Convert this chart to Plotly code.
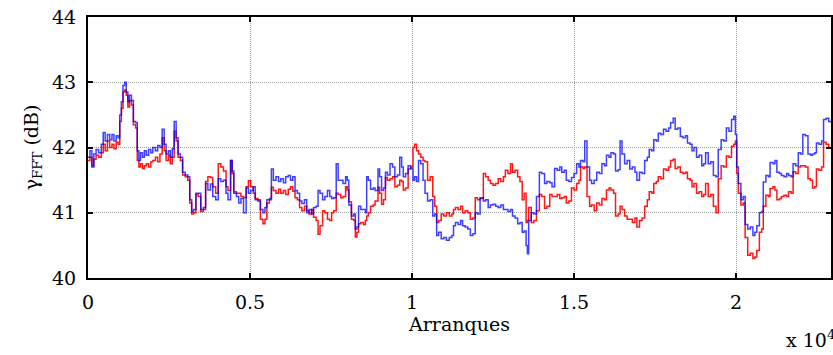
import plotly.graph_objects as go

arranques = [0,60,120,180,250,330,410,470,530,600,670,740,800,870,930,980,1030,1080,1130,1180,1230,1280,1340,1400,1470,1520,1570,1620,1680,1740,1800,1870,1940,2000,2080,2150,2220,2290,2350,2410,2480,2540,2600,2660,2720,2780,2850,2920,3000,3080,3140,3200,3260,3330,3400,3480,3560,3630,3700,3780,3850,3940,4020,4100,4180,4260,4320,4400,4450,4500,4580,4650,4720,4800,4880,4950,5020,5100,5160,5240,5320,5400,5460,5520,5600,5660,5720,5800,5880,5950,6030,6100,6180,6250,6320,6390,6460,6530,6600,6680,6750,6820,6900,6960,7040,7100,7160,7240,7310,7390,7460,7520,7580,7660,7720,7800,7870,7950,8000,8050,8130,8200,8250,8300,8350,8420,8500,8560,8600,8650,8720,8800,8860,8950,9000,9060,9120,9180,9240,9320,9400,9470,9550,9620,9680,9730,9800,9880,9960,10030,10080,10140,10200,10270,10340,10400,10480,10560,10640,10700,10760,10820,10900,10980,11060,11150,11230,11280,11340,11420,11500,11560,11640,11720,11800,11880,11950,12020,12100,12200,12270,12350,12420,12500,12580,12660,12740,12820,12880,12960,13040,13100,13180,13260,13330,13400,13460,13520,13560,13600,13680,13760,13840,13930,14000,14090,14160,14250,14320,14400,14480,14560,14620,14700,14760,14840,14920,15000,15080,15150,15200,15280,15330,15400,15480,15540,15620,15700,15780,15860,15940,16000,16080,16140,16220,16280,16360,16420,16480,16560,16640,16720,16800,16880,16940,17020,17100,17180,17260,17320,17400,17460,17540,17600,17680,17760,17840,17920,17980,18060,18120,18200,18280,18360,18440,18500,18580,18640,18700,18780,18860,18940,19000,19060,19140,19220,19300,19380,19450,19540,19620,19700,19780,19860,19930,19980,20020,20070,20150,20220,20280,20360,20440,20520,20580,20640,20720,20790,20840,20920,21000,21050,21140,21200,21260,21340,21400,21480,21560,21620,21700,21760,21840,21920,21990,22060,22140,22220,22300,22360,22430,22480,22560,22640,22700,22780,22860,22930]

gamma_blue = [41.85,41.95,41.70,41.90,41.97,41.92,42.05,42.23,42.10,42.20,42.12,42.20,42.10,42.18,42.15,42.50,42.70,42.95,43.00,42.85,42.70,42.80,42.72,42.40,42.38,41.95,41.80,41.92,41.85,41.95,41.88,41.97,41.92,42.00,41.95,42.03,42.00,42.28,42.05,41.90,41.95,41.85,41.98,42.40,42.15,41.90,41.85,41.62,41.58,41.55,41.20,41.02,41.05,41.30,41.30,41.05,41.08,41.45,41.35,41.44,41.25,41.20,41.52,41.48,41.50,41.30,41.20,41.80,41.64,41.30,41.25,41.15,41.22,41.00,41.38,41.30,41.34,41.40,41.20,41.18,41.05,41.00,41.08,41.20,41.22,41.67,41.50,41.55,41.48,41.52,41.46,41.55,41.57,41.50,41.55,41.34,41.30,41.18,41.14,41.20,41.00,41.05,40.98,41.08,41.10,41.34,41.30,41.20,41.25,41.34,41.25,41.22,41.23,41.75,41.50,41.50,41.45,41.55,41.50,41.12,40.95,40.98,40.75,40.78,41.10,41.05,41.05,41.00,41.55,41.50,41.36,41.38,41.34,41.67,41.55,41.34,41.38,41.62,41.58,41.75,41.70,41.55,41.58,41.85,41.70,41.55,41.60,41.72,41.68,41.50,41.55,41.48,41.80,41.75,41.50,41.30,41.18,41.20,40.95,40.98,40.65,40.70,40.60,40.62,40.58,40.62,40.65,40.80,40.85,40.82,40.88,40.80,40.78,40.75,40.65,40.68,41.00,40.98,41.23,41.18,41.20,41.08,41.12,41.13,41.10,41.08,41.12,41.05,41.05,41.02,41.05,40.95,40.92,40.83,40.85,40.70,40.72,40.50,40.37,40.88,41.00,40.98,41.25,41.62,41.60,41.45,41.48,41.46,41.40,41.68,41.65,41.70,41.62,41.65,41.50,41.48,41.54,41.60,41.75,41.70,41.80,41.78,42.10,41.70,41.50,41.45,41.50,41.62,41.60,41.75,41.72,41.88,41.85,41.92,41.90,41.64,41.66,42.10,41.90,41.75,41.80,41.67,41.70,41.62,41.50,41.62,41.60,41.80,41.85,41.97,41.95,42.12,42.10,42.22,42.20,42.28,42.25,42.30,42.38,42.45,42.28,42.30,42.17,42.15,42.18,42.07,42.05,41.95,42.00,41.85,41.88,41.72,41.75,41.92,41.75,41.78,41.57,41.55,41.97,42.12,42.10,42.30,42.25,42.43,42.48,42.20,41.70,41.45,41.20,41.25,40.82,40.75,40.78,40.65,40.70,40.80,41.00,41.02,41.47,41.57,41.55,41.77,41.75,41.80,41.62,41.60,41.57,41.55,41.60,41.57,41.55,41.75,41.72,41.92,41.90,42.20,42.18,41.90,41.88,41.90,41.92,42.07,42.05,42.10,42.43,42.45,42.40,42.38]

gamma_red = [41.80,41.85,41.72,41.82,41.88,41.85,41.92,42.05,41.95,42.10,42.00,42.05,41.98,42.08,42.05,42.40,42.60,42.85,42.88,42.80,42.62,42.72,42.65,42.35,42.30,41.80,41.70,41.75,41.68,41.72,41.75,41.70,41.78,41.80,41.85,41.78,41.90,42.15,41.95,41.80,41.88,41.75,41.85,42.25,42.10,41.85,41.80,41.58,41.55,41.50,41.15,40.98,41.00,41.28,41.25,41.02,41.05,41.48,41.55,41.54,41.40,41.30,41.75,41.70,41.64,41.40,41.34,41.80,41.60,41.32,41.30,41.30,41.25,41.23,41.40,41.49,41.40,41.30,41.22,41.20,40.90,40.83,40.90,41.15,41.20,41.39,41.34,41.30,41.36,41.30,41.34,41.28,41.36,41.40,41.33,41.23,41.20,41.08,41.03,41.10,41.03,40.98,41.05,40.93,40.88,40.67,40.80,41.03,41.00,40.90,40.88,41.00,41.03,41.30,41.28,41.23,41.25,41.40,41.35,41.17,40.90,40.88,40.63,40.70,40.83,40.85,40.82,40.88,40.95,41.00,41.10,41.12,41.18,41.39,41.30,41.13,41.20,41.54,41.50,41.52,41.55,41.40,41.42,41.50,41.48,41.35,41.38,41.67,41.70,42.00,42.05,41.95,41.90,41.85,41.80,41.78,41.50,41.55,41.25,41.10,40.85,40.88,40.98,40.95,41.00,40.95,40.98,41.05,41.08,41.05,41.10,41.00,41.03,41.00,40.90,40.92,41.23,41.20,41.22,41.60,41.55,41.50,41.45,41.42,41.45,41.52,41.48,41.55,41.65,41.60,41.75,41.62,41.65,41.55,41.48,41.20,41.30,40.85,40.88,41.08,40.85,40.88,41.03,41.28,41.25,41.07,41.10,41.28,41.25,41.25,41.28,41.22,41.23,41.25,41.15,41.18,41.38,41.35,41.45,41.50,41.70,41.68,41.70,41.25,41.10,41.12,41.03,41.15,41.12,41.22,41.20,41.35,41.38,41.35,41.30,40.95,40.98,41.10,41.05,40.95,40.90,40.90,40.85,40.92,40.78,40.88,40.92,41.10,41.20,41.32,41.30,41.45,41.48,41.55,41.52,41.67,41.65,41.70,41.80,41.82,41.68,41.70,41.62,41.60,41.62,41.52,41.50,41.40,41.45,41.30,41.32,41.25,41.28,41.45,41.25,41.28,41.10,41.00,41.52,41.72,41.70,41.87,41.85,42.02,42.05,42.10,41.60,41.30,41.12,41.15,40.62,40.35,40.38,40.30,40.32,40.42,40.70,40.75,41.10,41.27,41.25,41.37,41.40,41.35,41.20,41.22,41.25,41.27,41.25,41.32,41.30,41.63,41.60,41.70,41.72,41.72,41.70,41.52,41.50,41.38,41.40,41.67,41.65,41.70,42.08,42.05,42.00,41.98]

x_tickvals = [0, 5000, 10000, 15000, 20000]
x_ticktext = ["0", "0.5", "1", "1.5", "2"]
y_tickvals = [40, 41, 42, 43, 44]

fig = go.Figure()
fig.add_trace(go.Scatter(x=arranques, y=gamma_red, mode="lines", line_shape="hv",
                         line=dict(color="#FF0000", width=1.5), opacity=0.9, showlegend=False))
fig.add_trace(go.Scatter(x=arranques, y=gamma_blue, mode="lines", line_shape="hv",
                         line=dict(color="#0000FF", width=1.5), opacity=0.75, showlegend=False))

font_family = "DejaVu Serif"
fig.update_layout(
    width=833, height=355,
    margin=dict(l=88, r=0, t=17, b=77),
    paper_bgcolor="white", plot_bgcolor="white",
    font=dict(family=font_family, size=19, color="black"),
    showlegend=False,
)
fig.update_xaxes(
    range=[0, 22930], tickvals=x_tickvals, ticktext=x_ticktext,
    showline=True, linecolor="black", linewidth=2, mirror="ticks",
    ticks="inside", ticklen=5, tickwidth=1.5, tickcolor="black",
    showgrid=True, gridcolor="#a0a0a0", gridwidth=1, griddash="1px,1px",
    zeroline=False, ticklabelstandoff=6,
    title=dict(text="Arranques", font=dict(size=19, family=font_family), standoff=4),
    tickfont=dict(size=19, family=font_family),
)
fig.update_yaxes(
    range=[40, 44], tickvals=y_tickvals,
    showline=True, linecolor="black", linewidth=2, mirror="ticks",
    ticks="inside", ticklen=5, tickwidth=1.5, tickcolor="black",
    showgrid=True, gridcolor="#a0a0a0", gridwidth=1, griddash="1px,1px",
    zeroline=False, ticklabelstandoff=6,
    title=dict(text="γ<sub>FFT</sub> (dB)", font=dict(size=19, family=font_family), standoff=8),
    tickfont=dict(size=19, family=font_family),
)
fig.add_annotation(text="x 10<sup>4</sup>", xref="paper", yref="paper",
                   x=1.0, y=-0.235, xanchor="right", yanchor="middle",
                   showarrow=False, font=dict(size=19, family=font_family), xshift=6)

fig.write_html("out.html")
